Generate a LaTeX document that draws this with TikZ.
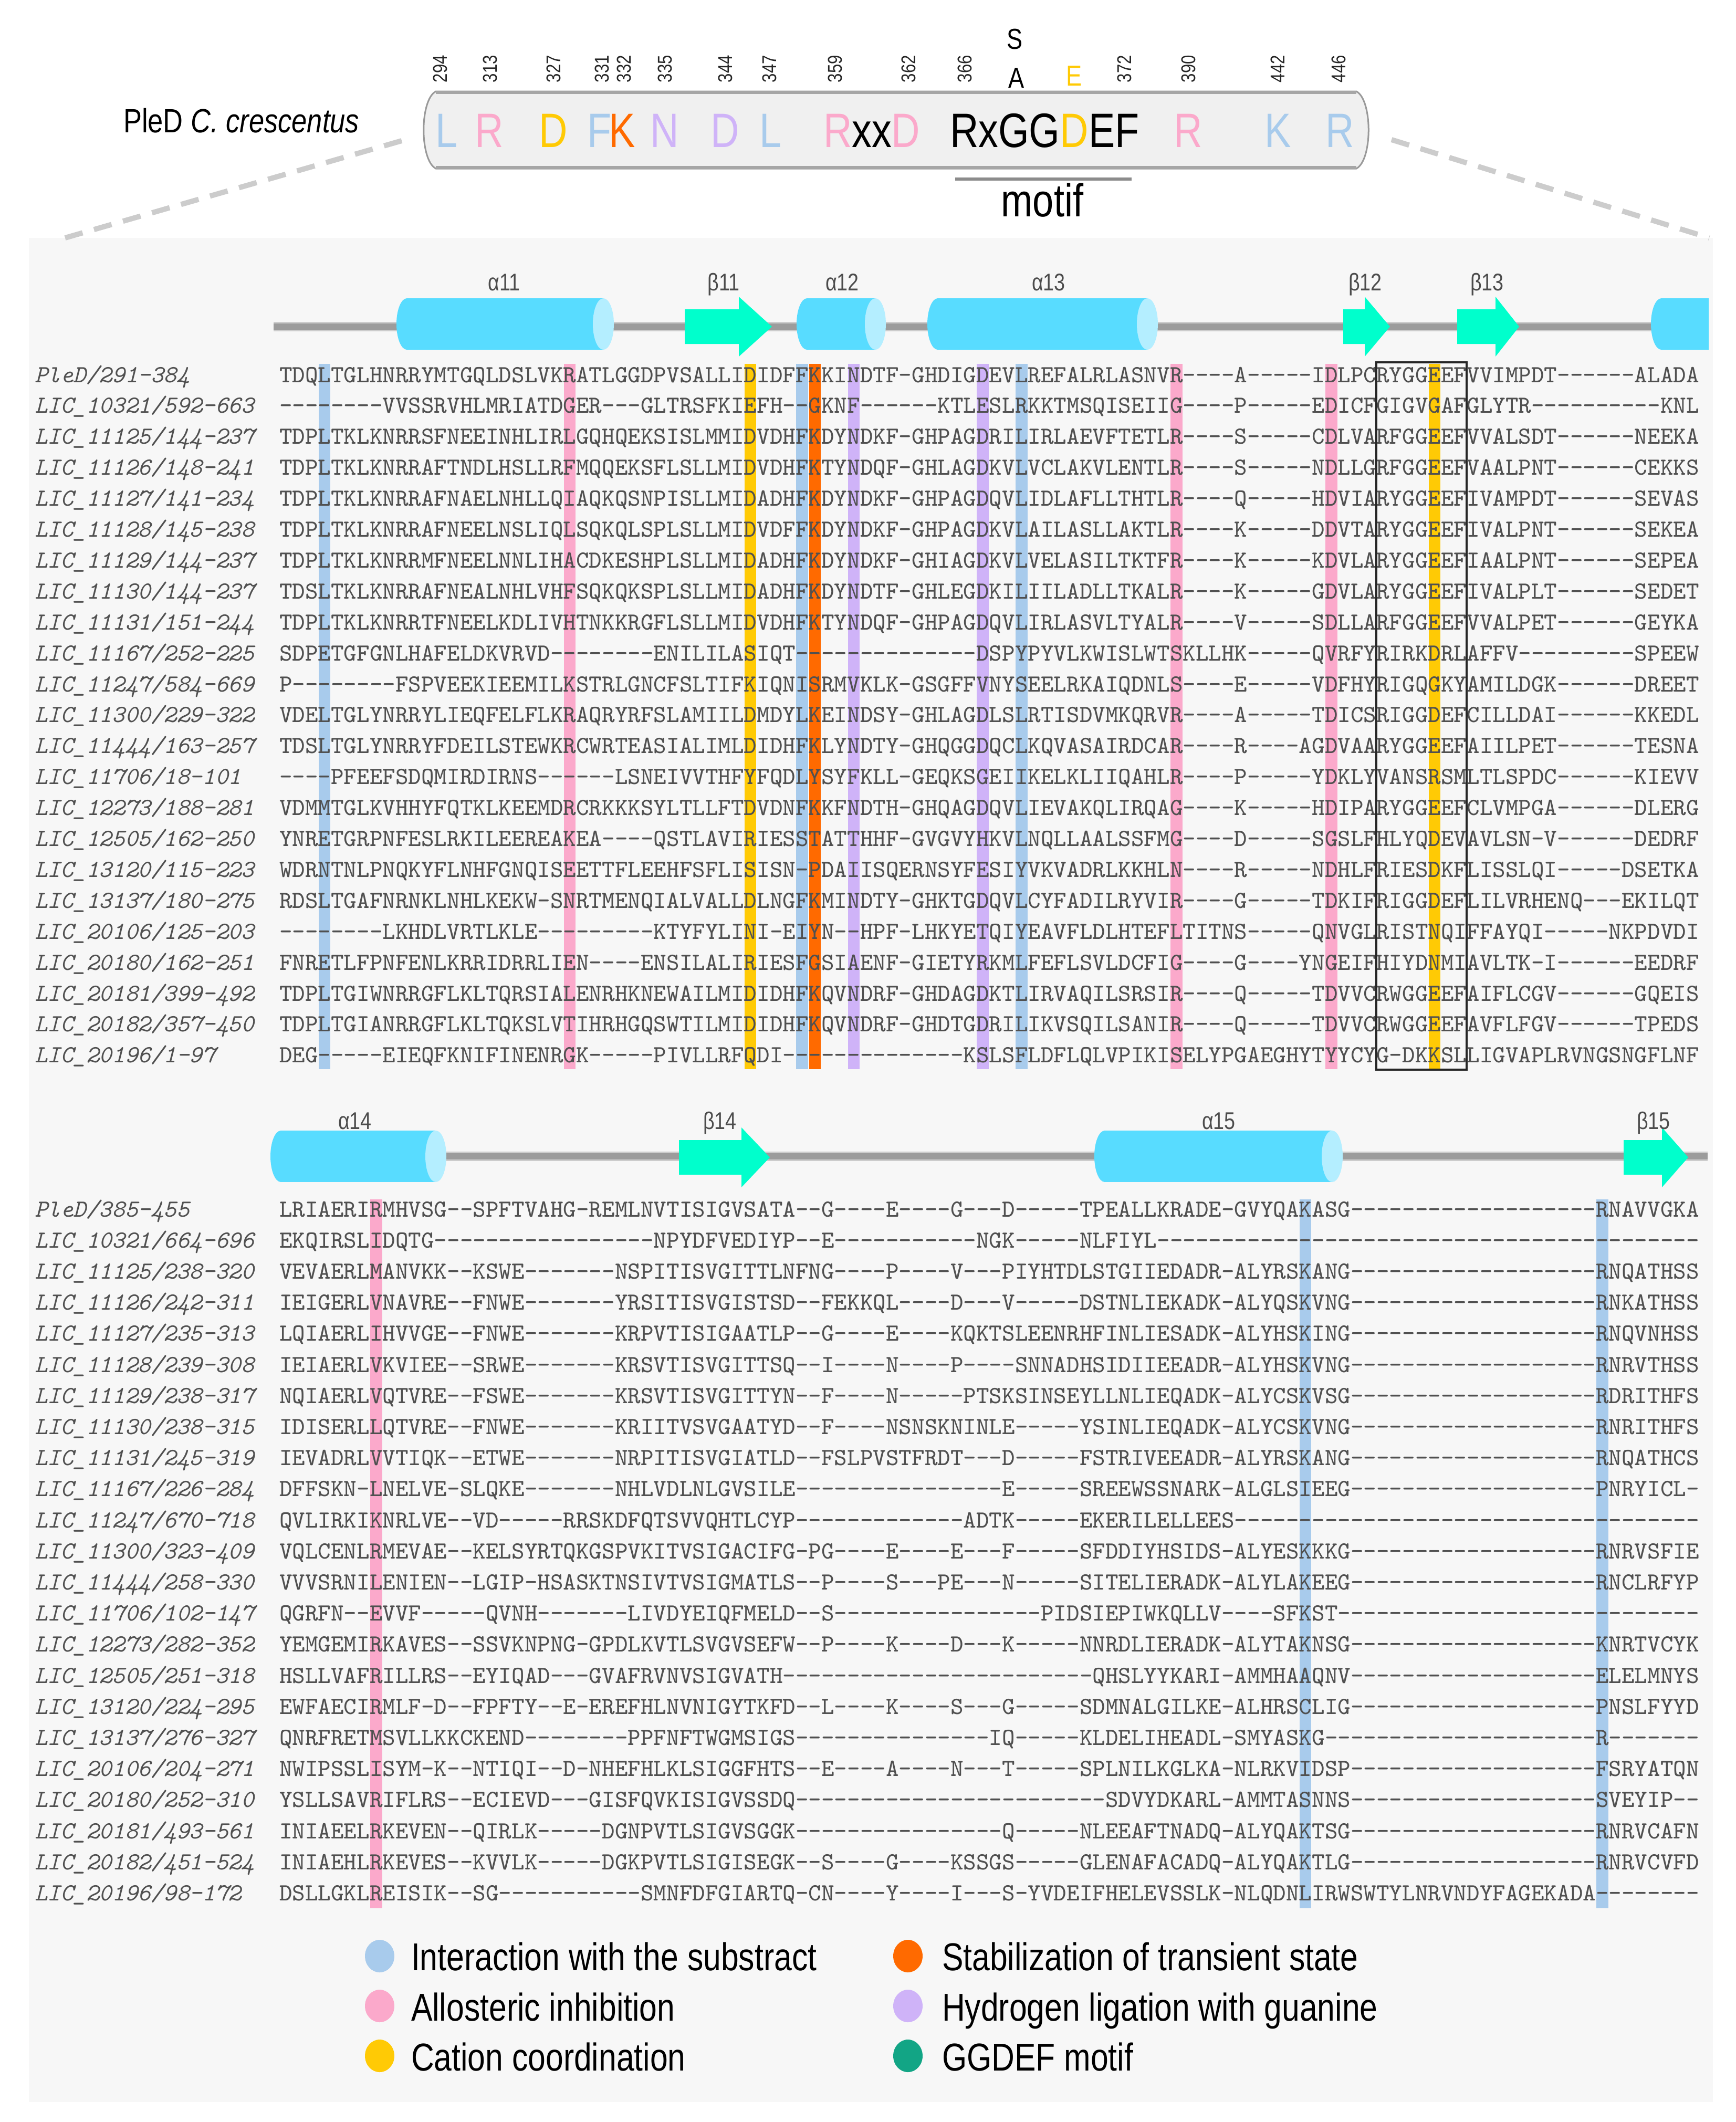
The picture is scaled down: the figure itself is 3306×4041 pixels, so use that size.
\documentclass[tikz,border=0pt]{standalone}
\usepackage{fontspec}
\setmainfont{Liberation Sans}
\newfontfamily\cond{Liberation Sans}[FakeStretch=0.82]
\ExplSyntaxOn
\NewDocumentCommand\dsh{m}{\prg_replicate:nn{#1}{-\kern0pt}}
\ExplSyntaxOff
\definecolor{cblue}{HTML}{A8CBEC}
\definecolor{cpink}{HTML}{FBA9CB}
\definecolor{cyel}{HTML}{FFCA05}
\definecolor{corg}{HTML}{FF6A00}
\definecolor{clav}{HTML}{CFB3F8}
\definecolor{cteal}{HTML}{12A585}
\definecolor{seqgray}{HTML}{505050}
\definecolor{panel}{HTML}{F7F7F7}
\definecolor{helixc}{HTML}{58DCFF}
\definecolor{helixend}{HTML}{B4EEFF}
\definecolor{strandc}{HTML}{00FFCC}
\definecolor{trackline}{HTML}{9C9C9C}
\definecolor{capsfill}{HTML}{F0F0F0}
\newcommand\trow[3]{\node[lab] (tl#1) at (66,{728+(#1-1)*58.9}) {#2};
  \node[seq] (ts#1) at (532,{728+(#1-1)*58.9}) {#3};}
\newcommand\brow[3]{\node[lab] (bl#1) at (66,{2317+(#1-1)*59.2}) {#2};
  \node[seq] (bs#1) at (532,{2317+(#1-1)*59.2}) {#3};}
\newcommand\helix[3]{%
  \fill[helixc] ({#1+20},{#3-49}) rectangle ({#2-20},{#3+49});
  \fill[helixc] ({#1+20},#3) ellipse [x radius=20, y radius=49];
  \fill[helixend] ({#2-20},#3) ellipse [x radius=20, y radius=49];}
\newcommand\strand[4]{%
  \fill[strandc] (#1,{#4-33}) -- (#2,{#4-33}) -- (#2,{#4-57}) -- (#3,#4) -- (#2,{#4+57}) -- (#2,{#4+33}) -- (#1,{#4+33}) -- cycle;}
\newcommand\hl[4]{\node[hletter, text=#3] (#4) at (#1,280) {#2};}
\newcommand\hnum[3]{\node[hnumber] (#3) at (#1,131) {#2};}
\begin{document}
\begin{tikzpicture}[x=0.2pt,y=-0.2pt,
  seq/.style={anchor=base west, inner sep=0pt, outer sep=0pt, font=\ttfamily\fontsize{9.364}{10}\selectfont, text=seqgray},
  lab/.style={anchor=base west, inner sep=0pt, outer sep=0pt, font=\ttfamily\itshape\fontsize{9.364}{10}\selectfont, text=seqgray},
  hletter/.style={anchor=base, inner sep=0pt, font=\cond\fontsize{18.4}{20}\selectfont},
  hword/.style={anchor=base west, inner sep=0pt, font=\cond\fontsize{18.4}{20}\selectfont},
  hnumber/.style={rotate=90, inner sep=0pt, font=\cond\fontsize{7.6}{8}\selectfont, text=black!85},
  sslab/.style={anchor=base, inner sep=0pt, font=\cond\fontsize{9.2}{10}\selectfont, text=black!70},
  legtext/.style={anchor=base west, inner sep=0pt, font=\cond\fontsize{14.8}{16}\selectfont, text=black},
  zoomline/.style={draw=black!20, line width=2pt, dash pattern=on 7pt off 4.5pt}
]
\useasboundingbox (0,0) rectangle (3306,4041);
\fill[white] (0,0) rectangle (3306,4041);
% panel
\fill[panel] (55,453) rectangle (3262,4003);
% header
\coordinate (zl1) at (765,268);
\coordinate (zl2) at (124,453);
\coordinate (zr1) at (2650,266);
\coordinate (zr2) at (3255,453);
\draw[zoomline] (zl1) -- (zl2);
\draw[zoomline] (zr1) -- (zr2);
\filldraw[fill=capsfill, draw=black!40, line width=0.6pt]
  (830,174) -- (2583,174) .. controls (2614,190) and (2614,305) .. (2583,321)
  -- (830,321) .. controls (799,305) and (799,190) .. (830,174) -- cycle;
\draw[black!35, line width=1.2pt] (830,176) -- (2583,176);
\draw[black!35, line width=1.2pt] (830,319) -- (2583,319);
\node[anchor=base west, inner sep=0pt, font=\cond\fontsize{12.8}{14}\selectfont] (pled) at (234,252) {PleD \textit{C. crescentus}};
\hl{850}{L}{cblue}{h1}
\hl{932}{R}{cpink}{h2}
\hl{1054}{D}{cyel}{h3}
\hl{1142}{F}{cblue}{h4}
\hl{1185}{K}{corg}{h5}
\hl{1266}{N}{clav}{h6}
\hl{1381}{D}{clav}{h7}
\hl{1467}{L}{cblue}{h8}
\node[hword] (h9) at (1567,280) {\textcolor{cpink}{R}xx\textcolor{cpink}{D}};
\node[hword] (h13) at (1808,280) {RxGG\textcolor{cyel}{D}EF};
\hl{2263}{R}{cpink}{h20}
\hl{2434}{K}{cblue}{h21}
\hl{2552}{R}{cblue}{h22}
\hnum{838}{294}{n1}
\hnum{933}{313}{n2}
\hnum{1054}{327}{n3}
\hnum{1146}{331}{n4}
\hnum{1188}{332}{n5}
\hnum{1266}{335}{n6}
\hnum{1381}{344}{n7}
\hnum{1465}{347}{n8}
\hnum{1590}{359}{n9}
\hnum{1730}{362}{n10}
\hnum{1837}{366}{n11}
\hnum{2141}{372}{n12}
\hnum{2263}{390}{n13}
\hnum{2433}{442}{n14}
\hnum{2549}{446}{n15}
\node[anchor=base, inner sep=0pt, font=\cond\fontsize{11}{12}\selectfont] (resA) at (1936,167) {A};
\node[anchor=base, inner sep=0pt, font=\cond\fontsize{11}{12}\selectfont] (resS) at (1933,93) {S};
\node[anchor=base, inner sep=0pt, font=\cond\fontsize{11}{12}\selectfont, text=cyel] (resE) at (2046,163) {E};
\coordinate (m1) at (1819,341);
\coordinate (m2) at (2155,341);
\draw[black!45, line width=1.2pt] (m1) -- (m2);
\node[anchor=base, inner sep=0pt, font=\cond\fontsize{17.6}{19}\selectfont] (motif) at (1985,412) {motif};
% top secondary structure
\fill[black!20] (521,613) rectangle (3252,631);
\fill[trackline] (521,616) rectangle (3252,628);
\helix{755}{1169}{617}
\helix{1517}{1687}{617}
\helix{1766}{2205}{617}
\begin{scope}
\clip (3100,500) rectangle (3254,700);
\helix{3144}{3320}{617}
\end{scope}
\strand{1304}{1407}{1470}{622}
\strand{2558}{2599}{2647}{622}
\strand{2775}{2848}{2893}{622}
\node[sslab] (ta11) at (960,553) {α11};
\node[sslab] (tb11) at (1378,553) {β11};
\node[sslab] (ta12) at (1604,553) {α12};
\node[sslab] (ta13) at (1997,553) {α13};
\node[sslab] (tb12) at (2600,553) {β12};
\node[sslab] (tb13) at (2832,553) {β13};
% bottom secondary structure
\fill[black!20] (700,2193) rectangle (3252,2211);
\fill[trackline] (700,2196) rectangle (3252,2208);
\helix{515}{850}{2202}
\helix{2084}{2557}{2202}
\strand{1293}{1412}{1466}{2204}
\strand{3092}{3165}{3215}{2204}
\node[sslab] (ba14) at (676,2150) {α14};
\node[sslab] (bb14) at (1371,2150) {β14};
\node[sslab] (ba15) at (2321,2150) {α15};
\node[sslab] (bb15) at (3149,2150) {β15};
% top bands
\foreach \c/\col in {4/cblue,41/cblue,58/cblue,23/cpink,70/cpink,82/cpink,37/cyel,90/cyel,42/corg,45/clav,55/clav}
  \fill[\col] ({532+(\c-1)*24.58+1},693) rectangle ({532+\c*24.58-1},2036);
% bottom bands
\foreach \c/\col in {8/cpink,80/cblue,103/cblue}
  \fill[\col] ({532+(\c-1)*24.58+1},2284) rectangle ({532+\c*24.58-1},3634);
% motif box
\draw[black!85, line width=0.8pt] ({532+85*24.58},690) rectangle ({532+92*24.58},2037);
% top block
\trow{1}{PleD/291-384}{TDQLTGLHNRRYMTGQLDSLVKRATLGGDPVSALLIDIDFFKKINDTF-GHDIGDEVLREFALRLASNVR\dsh{4}A\dsh{5}IDLPCRYGGEEFVVIMPDT\dsh{6}ALADA}
\trow{2}{LIC\_10321/592-663}{\dsh{8}VVSSRVHLMRIATDGER\dsh{3}GLTRSFKIEFH\dsh{2}GKNF\dsh{6}KTLESLRKKTMSQISEIIG\dsh{4}P\dsh{5}EDICFGIGVGAFGLYTR\dsh{10}KNL}
\trow{3}{LIC\_11125/144-237}{TDPLTKLKNRRSFNEEINHLIRLGQHQEKSISLMMIDVDHFKDYNDKF-GHPAGDRILIRLAEVFTETLR\dsh{4}S\dsh{5}CDLVARFGGEEFVVALSDT\dsh{6}NEEKA}
\trow{4}{LIC\_11126/148-241}{TDPLTKLKNRRAFTNDLHSLLRFMQQEKSFLSLLMIDVDHFKTYNDQF-GHLAGDKVLVCLAKVLENTLR\dsh{4}S\dsh{5}NDLLGRFGGEEFVAALPNT\dsh{6}CEKKS}
\trow{5}{LIC\_11127/141-234}{TDPLTKLKNRRAFNAELNHLLQIAQKQSNPISLLMIDADHFKDYNDKF-GHPAGDQVLIDLAFLLTHTLR\dsh{4}Q\dsh{5}HDVIARYGGEEFIVAMPDT\dsh{6}SEVAS}
\trow{6}{LIC\_11128/145-238}{TDPLTKLKNRRAFNEELNSLIQLSQKQLSPLSLLMIDVDFFKDYNDKF-GHPAGDKVLAILASLLAKTLR\dsh{4}K\dsh{5}DDVTARYGGEEFIVALPNT\dsh{6}SEKEA}
\trow{7}{LIC\_11129/144-237}{TDPLTKLKNRRMFNEELNNLIHACDKESHPLSLLMIDADHFKDYNDKF-GHIAGDKVLVELASILTKTFR\dsh{4}K\dsh{5}KDVLARYGGEEFIAALPNT\dsh{6}SEPEA}
\trow{8}{LIC\_11130/144-237}{TDSLTKLKNRRAFNEALNHLVHFSQKQKSPLSLLMIDADHFKDYNDTF-GHLEGDKILIILADLLTKALR\dsh{4}K\dsh{5}GDVLARYGGEEFIVALPLT\dsh{6}SEDET}
\trow{9}{LIC\_11131/151-244}{TDPLTKLKNRRTFNEELKDLIVHTNKKRGFLSLLMIDVDHFKTYNDQF-GHPAGDQVLIRLASVLTYALR\dsh{4}V\dsh{5}SDLLARFGGEEFVVALPET\dsh{6}GEYKA}
\trow{10}{LIC\_11167/252-225}{SDPETGFGNLHAFELDKVRVD\dsh{8}ENILILASIQT\dsh{14}DSPYPYVLKWISLWTSKLLHK\dsh{5}QVRFYRIRKDRLAFFV\dsh{9}SPEEW}
\trow{11}{LIC\_11247/584-669}{P\dsh{8}FSPVEEKIEEMILKSTRLGNCFSLTIFKIQNISRMVKLK-GSGFFVNYSEELRKAIQDNLS\dsh{4}E\dsh{5}VDFHYRIGQGKYAMILDGK\dsh{6}DREET}
\trow{12}{LIC\_11300/229-322}{VDELTGLYNRRYLIEQFELFLKRAQRYRFSLAMIILDMDYLKEINDSY-GHLAGDLSLRTISDVMKQRVR\dsh{4}A\dsh{5}TDICSRIGGDEFCILLDAI\dsh{6}KKEDL}
\trow{13}{LIC\_11444/163-257}{TDSLTGLYNRRYFDEILSTEWKRCWRTEASIALIMLDIDHFKLYNDTY-GHQGGDQCLKQVASAIRDCAR\dsh{4}R\dsh{4}AGDVAARYGGEEFAIILPET\dsh{6}TESNA}
\trow{14}{LIC\_11706/18-101}{\dsh{4}PFEEFSDQMIRDIRNS\dsh{6}LSNEIVVTHFYFQDLYSYFKLL-GEQKSGEIIKELKLIIQAHLR\dsh{4}P\dsh{5}YDKLYVANSRSMLTLSPDC\dsh{6}KIEVV}
\trow{15}{LIC\_12273/188-281}{VDMMTGLKVHHYFQTKLKEEMDRCRKKKSYLTLLFTDVDNFKKFNDTH-GHQAGDQVLIEVAKQLIRQAG\dsh{4}K\dsh{5}HDIPARYGGEEFCLVMPGA\dsh{6}DLERG}
\trow{16}{LIC\_12505/162-250}{YNRETGRPNFESLRKILEEREAKEA\dsh{4}QSTLAVIRIESSTATTHHF-GVGVYHKVLNQLLAALSSFMG\dsh{4}D\dsh{5}SGSLFHLYQDEVAVLSN-V\dsh{6}DEDRF}
\trow{17}{LIC\_13120/115-223}{WDRNTNLPNQKYFLNHFGNQISEETTFLEEHFSFLISISN-PDAIISQERNSYFESIYVKVADRLKKHLN\dsh{4}R\dsh{5}NDHLFRIESDKFLISSLQI\dsh{5}DSETKA}
\trow{18}{LIC\_13137/180-275}{RDSLTGAFNRNKLNHLKEKW-SNRTMENQIALVALLDLNGFKMINDTY-GHKTGDQVLCYFADILRYVIR\dsh{4}G\dsh{5}TDKIFRIGGDEFLILVRHENQ\dsh{3}EKILQT}
\trow{19}{LIC\_20106/125-203}{\dsh{8}LKHDLVRTLKLE\dsh{9}KTYFYLINI-EIYN\dsh{2}HPF-LHKYETQIYEAVFLDLHTEFLTITNS\dsh{5}QNVGLRISTNQIFFAYQI\dsh{5}NKPDVDI}
\trow{20}{LIC\_20180/162-251}{FNRETLFPNFENLKRRIDRRLIEN\dsh{4}ENSILALIRIESFGSIAENF-GIETYRKMLFEFLSVLDCFIG\dsh{4}G\dsh{4}YNGEIFHIYDNMIAVLTK-I\dsh{6}EEDRF}
\trow{21}{LIC\_20181/399-492}{TDPLTGIWNRRGFLKLTQRSIALENRHKNEWAILMIDIDHFKQVNDRF-GHDAGDKTLIRVAQILSRSIR\dsh{4}Q\dsh{5}TDVVCRWGGEEFAIFLCGV\dsh{6}GQEIS}
\trow{22}{LIC\_20182/357-450}{TDPLTGIANRRGFLKLTQKSLVTIHRHGQSWTILMIDIDHFKQVNDRF-GHDTGDRILIKVSQILSANIR\dsh{4}Q\dsh{5}TDVVCRWGGEEFAVFLFGV\dsh{6}TPEDS}
\trow{23}{LIC\_20196/1-97}{DEG\dsh{5}EIEQFKNIFINENRGK\dsh{5}PIVLLRFQDI\dsh{14}KSLSFLDFLQLVPIKISELYPGAEGHYTYYCYG-DKKSLLIGVAPLRVNGSNGFLNF}
% bottom block
\brow{1}{PleD/385-455}{LRIAERIRMHVSG\dsh{2}SPFTVAHG-REMLNVTISIGVSATA\dsh{2}G\dsh{4}E\dsh{4}G\dsh{3}D\dsh{5}TPEALLKRADE-GVYQAKASG\dsh{19}RNAVVGKA}
\brow{2}{LIC\_10321/664-696}{EKQIRSLIDQTG\dsh{17}NPYDFVEDIYP\dsh{2}E\dsh{11}NGK\dsh{5}NLFIYL\dsh{42}}
\brow{3}{LIC\_11125/238-320}{VEVAERLMANVKK\dsh{2}KSWE\dsh{7}NSPITISVGITTLNFNG\dsh{4}P\dsh{4}V\dsh{3}PIYHTDLSTGIIEDADR-ALYRSKANG\dsh{19}RNQATHSS}
\brow{4}{LIC\_11126/242-311}{IEIGERLVNAVRE\dsh{2}FNWE\dsh{7}YRSITISVGISTSD\dsh{2}FEKKQL\dsh{4}D\dsh{3}V\dsh{5}DSTNLIEKADK-ALYQSKVNG\dsh{19}RNKATHSS}
\brow{5}{LIC\_11127/235-313}{LQIAERLIHVVGE\dsh{2}FNWE\dsh{7}KRPVTISIGAATLP\dsh{2}G\dsh{4}E\dsh{4}KQKTSLEENRHFINLIESADK-ALYHSKING\dsh{19}RNQVNHSS}
\brow{6}{LIC\_11128/239-308}{IEIAERLVKVIEE\dsh{2}SRWE\dsh{7}KRSVTISVGITTSQ\dsh{2}I\dsh{4}N\dsh{4}P\dsh{4}SNNADHSIDIIEEADR-ALYHSKVNG\dsh{19}RNRVTHSS}
\brow{7}{LIC\_11129/238-317}{NQIAERLVQTVRE\dsh{2}FSWE\dsh{7}KRSVTISVGITTYN\dsh{2}F\dsh{4}N\dsh{5}PTSKSINSEYLLNLIEQADK-ALYCSKVSG\dsh{19}RDRITHFS}
\brow{8}{LIC\_11130/238-315}{IDISERLLQTVRE\dsh{2}FNWE\dsh{7}KRIITVSVGAATYD\dsh{2}F\dsh{4}NSNSKNINLE\dsh{5}YSINLIEQADK-ALYCSKVNG\dsh{19}RNRITHFS}
\brow{9}{LIC\_11131/245-319}{IEVADRLVVTIQK\dsh{2}ETWE\dsh{7}NRPITISVGIATLD\dsh{2}FSLPVSTFRDT\dsh{3}D\dsh{5}FSTRIVEEADR-ALYRSKANG\dsh{19}RNQATHCS}
\brow{10}{LIC\_11167/226-284}{DFFSKN-LNELVE-SLQKE\dsh{7}NHLVDLNLGVSILE\dsh{16}E\dsh{5}SREEWSSNARK-ALGLSIEEG\dsh{19}PNRYICL-}
\brow{11}{LIC\_11247/670-718}{QVLIRKIKNRLVE\dsh{2}VD\dsh{5}RRSKDFQTSVVQHTLCYP\dsh{13}ADTK\dsh{5}EKERILELLEES\dsh{36}}
\brow{12}{LIC\_11300/323-409}{VQLCENLRMEVAE\dsh{2}KELSYRTQKGSPVKITVSIGACIFG-PG\dsh{4}E\dsh{4}E\dsh{3}F\dsh{5}SFDDIYHSIDS-ALYESKKKG\dsh{19}RNRVSFIE}
\brow{13}{LIC\_11444/258-330}{VVVSRNILENIEN\dsh{2}LGIP-HSASKTNSIVTVSIGMATLS\dsh{2}P\dsh{4}S\dsh{3}PE\dsh{3}N\dsh{5}SITELIERADK-ALYLAKEEG\dsh{19}RNCLRFYP}
\brow{14}{LIC\_11706/102-147}{QGRFN\dsh{2}EVVF\dsh{5}QVNH\dsh{7}LIVDYEIQFMELD\dsh{2}S\dsh{16}PIDSIEPIWKQLLV\dsh{4}SFKST\dsh{28}}
\brow{15}{LIC\_12273/282-352}{YEMGEMIRKAVES\dsh{2}SSVKNPNG-GPDLKVTLSVGVSEFW\dsh{2}P\dsh{4}K\dsh{4}D\dsh{3}K\dsh{5}NNRDLIERADK-ALYTAKNSG\dsh{19}KNRTVCYK}
\brow{16}{LIC\_12505/251-318}{HSLLVAFRILLRS\dsh{2}EYIQAD\dsh{3}GVAFRVNVSIGVATH\dsh{24}QHSLYYKARI-AMMHAAQNV\dsh{19}ELELMNYS}
\brow{17}{LIC\_13120/224-295}{EWFAECIRMLF-D\dsh{2}FPFTY\dsh{2}E-EREFHLNVNIGYTKFD\dsh{2}L\dsh{4}K\dsh{4}S\dsh{3}G\dsh{5}SDMNALGILKE-ALHRSCLIG\dsh{19}PNSLFYYD}
\brow{18}{LIC\_13137/276-327}{QNRFRETMSVLLKKCKEND\dsh{8}PPFNFTWGMSIGS\dsh{15}IQ\dsh{5}KLDELIHEADL-SMYASKG\dsh{21}R\dsh{7}}
\brow{19}{LIC\_20106/204-271}{NWIPSSLISYM-K\dsh{2}NTIQI\dsh{2}D-NHEFHLKLSIGGFHTS\dsh{2}E\dsh{4}A\dsh{4}N\dsh{3}T\dsh{5}SPLNILKGLKA-NLRKVIDSP\dsh{19}FSRYATQN}
\brow{20}{LIC\_20180/252-310}{YSLLSAVRIFLRS\dsh{2}ECIEVD\dsh{3}GISFQVKISIGVSSDQ\dsh{24}SDVYDKARL-AMMTASNNS\dsh{19}SVEYIP\dsh{2}}
\brow{21}{LIC\_20181/493-561}{INIAEELRKEVEN\dsh{2}QIRLK\dsh{5}DGNPVTLSIGVSGGK\dsh{16}Q\dsh{5}NLEEAFTNADQ-ALYQAKTSG\dsh{19}RNRVCAFN}
\brow{22}{LIC\_20182/451-524}{INIAEHLRKEVES\dsh{2}KVVLK\dsh{5}DGKPVTLSIGISEGK\dsh{2}S\dsh{4}G\dsh{4}KSSGS\dsh{5}GLENAFACADQ-ALYQAKTLG\dsh{19}RNRVCVFD}
\brow{23}{LIC\_20196/98-172}{DSLLGKLREISIK\dsh{2}SG\dsh{11}SMNFDFGIARTQ-CN\dsh{4}Y\dsh{4}I\dsh{3}S-YVDEIFHELEVSSLK-NLQDNLIRWSWTYLNRVNDYFAGEKADA\dsh{8}}
% legend
\fill[cblue] (723,3725) ellipse [x radius=28, y radius=31];
\fill[cpink] (723,3820) ellipse [x radius=28, y radius=31];
\fill[cyel] (723,3915) ellipse [x radius=28, y radius=31];
\fill[corg] (1729,3725) ellipse [x radius=28, y radius=31];
\fill[clav] (1729,3820) ellipse [x radius=28, y radius=31];
\fill[cteal] (1729,3915) ellipse [x radius=28, y radius=31];
\node[legtext] (lg1) at (782,3752) {Interaction with the substract};
\node[legtext] (lg2) at (782,3848) {Allosteric inhibition};
\node[legtext] (lg3) at (782,3943) {Cation coordination};
\node[legtext] (lg4) at (1793,3752) {Stabilization of transient state};
\node[legtext] (lg5) at (1793,3848) {Hydrogen ligation with guanine};
\node[legtext] (lg6) at (1793,3943) {GGDEF motif};
\end{tikzpicture}
\end{document}
